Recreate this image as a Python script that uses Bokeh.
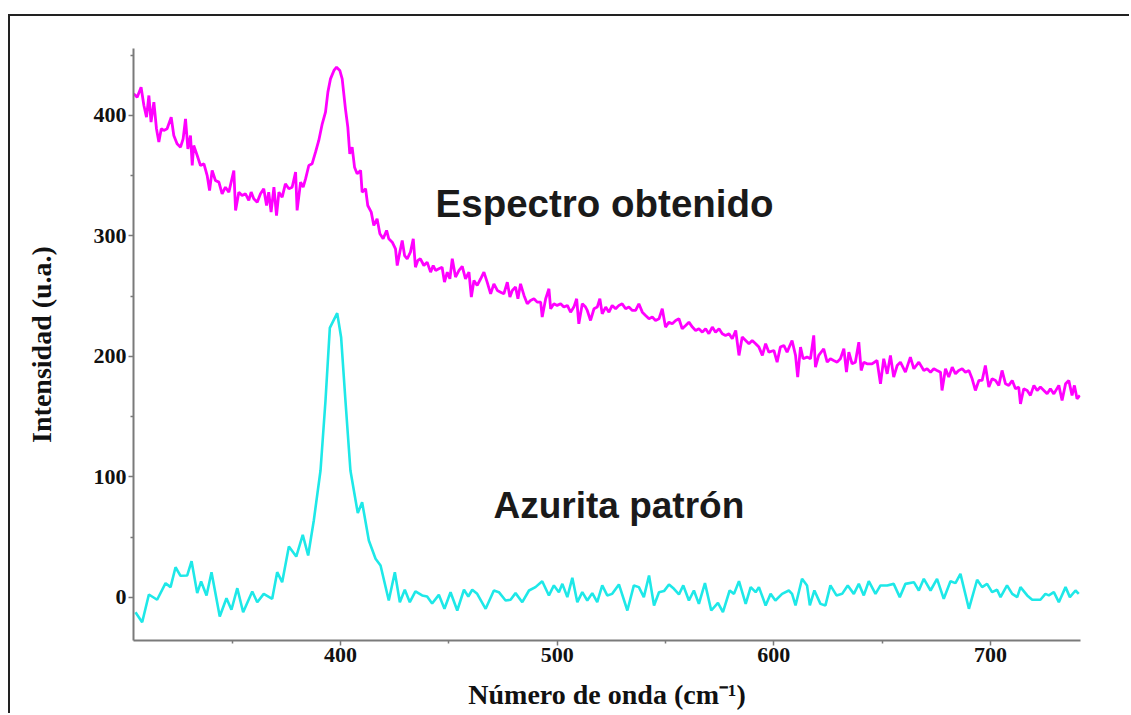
from bokeh.plotting import figure
from bokeh.models import Range1d, FixedTicker, Label, ColumnDataSource
from bokeh.embed import file_html
from bokeh.resources import INLINE

# ---------------- data ----------------
# "Espectro obtenido" (measured spectrum)
obt_x = [304.6, 306.2, 308.0, 309.3, 310.5, 311.6, 312.6, 313.9, 315.1, 316.2, 317.3, 318.5, 320.0, 321.9,
         323.1, 324.6, 326.2, 327.4, 328.5, 329.6, 330.8, 331.6, 332.3, 333.9, 335.4, 337.0, 338.5, 339.6,
         340.8, 342.3, 343.9, 345.4, 346.9, 348.5, 350.8, 351.6, 353.1, 354.6, 356.2, 357.7, 358.8, 360.0,
         361.6, 363.1, 364.6, 365.9, 366.9, 368.0, 369.3, 370.5, 371.6, 373.1, 374.6, 376.2, 377.7, 379.3,
         380.0, 381.6, 382.8, 383.9, 385.4, 386.9, 388.5, 390.0, 391.6, 393.1, 394.2, 395.4, 397.0, 398.2,
         399.7, 400.8, 402.3, 403.4, 404.3, 405.4, 406.5, 407.7, 409.3, 410.0, 411.6, 412.6, 414.2, 415.4,
         416.9, 418.2, 419.7, 421.3, 422.3, 423.9, 425.4, 426.2, 427.4, 428.5, 429.6, 430.8, 432.3, 433.6,
         434.6, 435.7, 436.9, 438.5, 440.0, 441.6, 442.8, 443.9, 445.4, 446.9, 448.0, 449.3, 450.5,
         451.6, 453.1, 454.7, 456.2, 457.7, 459.3, 460.4, 461.6, 463.1, 464.7, 466.2, 467.7, 469.3, 470.8,
         472.4, 473.9, 475.4, 477.0, 478.2, 479.3, 480.8, 481.9, 483.1, 484.7, 486.2, 487.7, 489.3, 490.8,
         492.4, 493.1, 494.7, 496.2, 497.0, 498.5, 500.0, 501.6, 503.1, 504.7, 506.2, 507.7, 509.0, 510.0,
         511.6, 513.1, 513.9, 515.4, 517.0, 518.5, 519.7, 520.8, 522.4, 523.9, 525.4, 527.0, 528.5, 530.0,
         531.6, 533.1, 534.7, 536.2, 537.7, 539.3, 540.8, 542.4, 543.9, 545.4, 547.0, 548.5, 550.0, 551.6,
         553.1, 554.7, 556.2, 557.7, 559.3, 560.8, 562.4, 563.9, 565.4, 567.0, 568.5, 570.0, 571.6, 573.1,
         574.7, 576.2, 577.7, 579.3, 580.8, 582.4, 583.9, 585.4, 587.0, 588.5, 590.0, 591.6, 593.1, 594.7,
         596.2, 597.7,
         600.0, 601.5, 603.0, 604.6, 606.1, 608.4, 610.0, 611.0, 612.3, 613.5, 615.3, 616.9, 618.4, 619.2,
         620.7, 623.0, 624.6, 626.1, 627.6, 629.2, 630.7, 632.3, 633.5, 634.6, 636.1, 637.6, 639.2, 640.3,
         641.5, 643.0, 645.3, 647.6, 649.2, 650.7, 652.3, 653.8, 655.3, 656.9, 658.4, 660.7, 663.0, 664.6,
         666.9, 669.2, 670.7, 672.3, 673.8, 675.3, 676.9, 677.6, 679.2, 680.7, 682.3, 683.8, 685.3, 686.9,
         688.4, 690.0, 691.5, 693.0, 694.6, 696.1, 697.6, 699.2, 700.7, 702.3, 703.8, 705.3, 706.9, 708.4,
         710.0, 711.5, 713.0, 713.8, 715.3, 716.9, 718.4, 720.0, 721.5, 723.0, 724.6, 726.1, 727.6, 729.2,
         731.5, 733.0, 734.6, 736.1, 737.6, 738.7, 739.9, 741.2]
obt_y = [418.0, 415.2, 423.5, 408.3, 398.6, 416.6, 394.5, 411.1, 389.0, 377.9, 389.0, 387.6, 389.0, 398.6,
         383.4, 376.5, 373.7, 380.6, 397.2, 372.3, 383.4, 358.5, 375.1, 366.8, 358.5, 359.9, 350.2, 337.8,
         354.4, 346.1, 344.7, 335.0, 340.5, 336.4, 354.4, 321.2, 336.4, 333.6, 335.0, 329.5, 336.4, 330.9,
         328.1, 335.0, 339.2, 325.3, 336.4, 319.8, 340.5, 317.0, 336.4, 332.2, 343.3, 339.2, 340.5, 353.0,
         321.2, 344.7, 340.5, 347.4, 358.5, 359.9, 369.6, 379.3, 393.1, 402.8, 419.4, 430.4, 437.4, 440.1,
         437.4, 430.4, 405.5, 390.3, 368.2, 373.7, 357.1, 351.6, 354.4, 336.4, 339.2, 325.3, 319.8, 308.7,
         314.3, 301.8, 297.7, 304.6, 297.7, 294.9, 289.4, 275.5, 286.6, 296.3, 283.8, 281.1, 286.6, 297.7,
         274.1, 279.7, 281.1, 275.5, 278.3, 270.0, 275.5, 271.4, 272.8, 274.1, 261.7, 270.0, 264.5,
         281.1, 265.9, 271.4, 274.7, 264.5, 270.0, 249.3, 263.1, 259.0, 264.5, 270.0, 261.7, 252.0, 260.3,
         254.8, 253.4, 252.0, 261.7, 249.3, 254.8, 257.6, 247.9, 260.3, 250.7, 243.7, 246.5, 247.9, 245.1,
         245.1, 232.7, 247.9, 256.2, 239.6, 243.7, 242.4, 243.7, 241.0, 242.4, 236.8, 241.0, 247.9, 227.1,
         243.7, 241.0, 238.2, 229.9, 239.6, 241.0, 247.9, 235.4, 241.0, 236.8, 242.4, 239.6, 242.4, 243.7,
         239.6, 241.0, 238.2, 238.2, 243.7, 236.8, 234.1, 231.3, 232.7, 229.9, 231.3, 239.6, 224.4, 228.5,
         227.1, 229.9, 231.3, 223.0, 225.8, 228.5, 224.4, 221.6, 223.0, 220.2, 223.0, 218.9, 224.4, 220.2,
         223.0, 218.9, 217.5, 218.9, 214.7, 221.6, 200.9, 216.1, 213.3, 210.6, 213.3, 210.6, 207.8, 200.9,
         210.6, 203.6,
         205.0, 195.3, 207.8, 209.2, 203.6, 213.3, 200.9, 182.9, 207.8, 198.1, 199.5, 198.1, 217.5, 191.2,
         200.9, 206.4, 195.3, 198.1, 196.7, 195.3, 198.1, 206.4, 187.0, 203.6, 193.9, 195.3, 211.9, 188.4,
         195.3, 193.9, 193.9, 196.7, 177.3, 198.1, 185.6, 200.9, 182.9, 192.5, 195.3, 187.0, 199.5, 189.8,
         195.3, 188.4, 189.8, 187.0, 189.8, 188.4, 187.0, 171.8, 189.8, 182.9, 191.2, 185.6, 188.4, 189.8,
         187.0, 188.4, 181.5, 171.8, 180.1, 180.1, 192.5, 174.6, 181.5, 180.1, 176.0, 188.4, 177.3, 176.0,
         180.1, 173.2, 174.6, 160.7, 173.2, 171.8, 167.7, 176.0, 171.8, 174.6, 171.8, 169.0, 173.2, 169.0,
         176.0, 163.5, 177.3, 180.1, 167.7, 176.0, 164.9, 167.7]

# "Azurita patrón" (reference azurite spectrum)
azu_x = [305.4, 308.5, 311.6, 315.4, 319.3, 321.6, 323.9, 326.2, 329.3, 331.3, 333.9, 335.7, 338.2, 340.5,
         344.3, 347.4, 349.7, 352.4, 355.1, 359.3, 361.6, 364.6, 368.5, 370.8, 373.1, 376.2, 379.6, 382.6,
         385.1, 387.7, 390.8, 393.1, 395.1, 398.5, 400.3, 402.3, 404.6, 408.0, 410.0, 413.1, 416.2, 418.5,
         422.3, 425.1, 427.4, 429.7, 432.0, 434.6, 437.7, 440.0, 442.3, 445.4, 448.0, 450.8,
         453.9, 457.0, 459.0, 460.8, 463.1, 467.0, 470.8, 473.1, 476.2, 478.5, 480.8, 483.9, 487.0, 490.0,
         493.1, 496.2, 498.5, 500.8, 502.4, 504.7, 507.0, 509.3, 511.6, 513.9, 516.2, 518.5, 520.8, 523.1,
         525.4, 528.5, 532.4, 535.4, 537.7, 540.0, 542.4, 544.7, 547.0, 549.3, 551.6, 553.9, 556.2, 558.2,
         560.8, 563.1, 565.4, 568.2, 571.1, 574.2, 576.5, 579.6, 581.6, 583.9, 587.0, 589.3, 591.6, 593.1,
         596.2, 598.5,
         600.7, 603.8, 606.9, 608.4, 610.0, 613.0, 615.3, 616.6, 618.7, 621.5, 623.8, 626.1, 628.9, 631.5,
         634.1, 636.9, 639.2, 641.5, 643.8, 646.9, 649.2, 652.3, 655.3, 658.1, 660.7, 664.6, 666.9, 669.2,
         672.3, 675.3, 678.4, 681.5, 683.8, 686.1, 690.0, 693.8, 696.1, 698.4, 700.7, 703.0, 704.6, 707.6,
         710.0, 712.3, 713.8, 716.9, 719.2, 723.0, 725.3, 726.9, 729.2, 731.5, 734.6, 736.6, 739.2, 740.7]
azu_y = [-12.2, -20.5, 2.5, -1.9, 11.9, 8.6, 25.1, 18.0, 18.3, 30.1, 3.6, 13.3, 1.7, 21.0,
         -15.8, -0.6, -10.2, 7.7, -12.2, 5.0, -3.9, 3.0, -1.1, 21.0, 12.7, 42.3, 34.0, 52.0,
         34.9, 63.9, 105.4, 163.5, 223.8, 236.0, 216.0, 163.5, 105.4, 70.0, 79.0, 47.3, 32.1, 26.6,
         -2.5, 21.0, -3.9, 6.4, -3.9, 5.0, 1.7, 0.8, -5.0, 2.2, -9.4, 4.4,
         -10.8, 6.4, 0.8, 6.4, 3.0, -9.4, 5.8, 4.4, -2.5, -1.9, 3.6, -3.9, 5.8, 8.6,
         13.5, 1.7, 10.0, 4.4, 11.3, 0.3, 16.3, -3.9, 4.4, -2.5, 3.6, -3.9, 10.0, 1.7,
         3.0, 10.8, -10.8, 10.0, 8.6, 0.3, 18.3, -6.6, 4.4, 5.3, 10.8, 7.2, 2.5, 10.0,
         -2.5, 5.8, -5.3, 11.9, -10.8, -4.4, -12.2, 5.8, 3.0, 13.5, -5.3, 8.6, 4.4, 8.6,
         -6.6, 3.0,
         -2.5, 3.0, 5.8, 3.0, -6.6, 15.5, 10.0, -6.6, 5.8, -5.3, -6.6, 10.0, 1.7, 3.0,
         10.0, 3.0, 11.3, 1.7, 13.5, 3.0, 10.0, 10.0, 11.3, 0.3, 11.3, 12.7, 5.8, 15.5,
         5.8, 15.5, -1.1, 13.5, 11.9, 19.6, -9.4, 14.7, 8.6, 11.3, 4.4, 6.4, 0.3, 10.0,
         3.0, 0.3, 8.6, 1.7, -1.9, -1.9, 3.0, 1.7, 4.4, -3.9, 8.6, 0.3, 5.8, 3.0]

x_ticks = [400, 500, 600, 700]
x_minor_ticks = [350, 450, 550, 650]
y_ticks = [0, 100, 200, 300, 400]
y_minor_ticks = [50, 150, 250, 350, 450]

label_obtenido = "Espectro obtenido"
label_azurita = "Azurita patrón"
x_title = "Número de onda (cm⁻¹)"
y_title = "Intensidad (u.a.)"

# ---------------- figure ----------------
# the figure sits inside a picture frame whose left edge is at x=8 and top edge at y=14
OFF_L, OFF_T, BW = 8, 14, 2
W, H = 1131 - OFF_L - BW, 715 - OFF_T - BW
p = figure(width=W, height=H, output_backend="svg", toolbar_location=None,
           x_range=Range1d(304.5, 741.5), y_range=Range1d(-35.7, 455.6),
           min_border_left=133 - OFF_L - BW, min_border_right=51,
           min_border_top=48 - OFF_T - BW, min_border_bottom=75)
p.margin = (OFF_T, 0, 0, OFF_L)
p.styles = {"border-left": "2px solid #222222", "border-top": "2px solid #222222"}
p.background_fill_color = "white"
p.border_fill_color = "white"
p.outline_line_color = None
p.xgrid.visible = False
p.ygrid.visible = False

src_obt = ColumnDataSource(dict(x=obt_x, y=obt_y))
src_azu = ColumnDataSource(dict(x=azu_x, y=azu_y))
p.line("x", "y", source=src_obt, line_color="#ff00ff", line_width=2.8)
p.line("x", "y", source=src_azu, line_color="#1ee8e8", line_width=2.6)

serif = "Liberation Serif"
for ax in (p.xaxis[0], p.yaxis[0]):
    ax.axis_line_color = "#7a7a7a"
    ax.axis_line_width = 2
    ax.major_tick_line_color = "#7a7a7a"
    ax.minor_tick_line_color = "#7a7a7a"
    ax.major_tick_line_width = 1.5
    ax.minor_tick_line_width = 1.5
    ax.major_tick_in = 0
    ax.minor_tick_in = 0
    ax.major_tick_out = 5
    ax.minor_tick_out = 3
    ax.major_label_text_font = serif
    ax.major_label_text_font_style = "bold"
    ax.major_label_text_font_size = "22px"
    ax.major_label_text_color = "#111111"
    ax.axis_label_text_font = serif
    ax.axis_label_text_font_style = "bold"
    ax.axis_label_text_font_size = "28px"
    ax.axis_label_text_color = "#111111"

p.xaxis[0].ticker = FixedTicker(ticks=x_ticks, minor_ticks=x_minor_ticks)
p.yaxis[0].ticker = FixedTicker(ticks=y_ticks, minor_ticks=y_minor_ticks)
p.xaxis[0].axis_label = x_title
p.yaxis[0].axis_label = y_title
p.xaxis[0].major_label_standoff = 2
p.yaxis[0].major_label_standoff = 2
p.xaxis[0].axis_label_standoff = 14
p.yaxis[0].axis_label_standoff = 34

p.add_layout(Label(x=443.9, y=327, text=label_obtenido, text_font="Liberation Sans",
                   text_font_style="bold", text_font_size="38.5px", text_color="#1a1a1a",
                   text_align="left", text_baseline="middle"))
p.add_layout(Label(x=470.6, y=76.3, text=label_azurita, text_font="Liberation Sans",
                   text_font_style="bold", text_font_size="37px", text_color="#1a1a1a",
                   text_align="left", text_baseline="middle"))

open("out.html", "w").write(file_html(p, INLINE))
